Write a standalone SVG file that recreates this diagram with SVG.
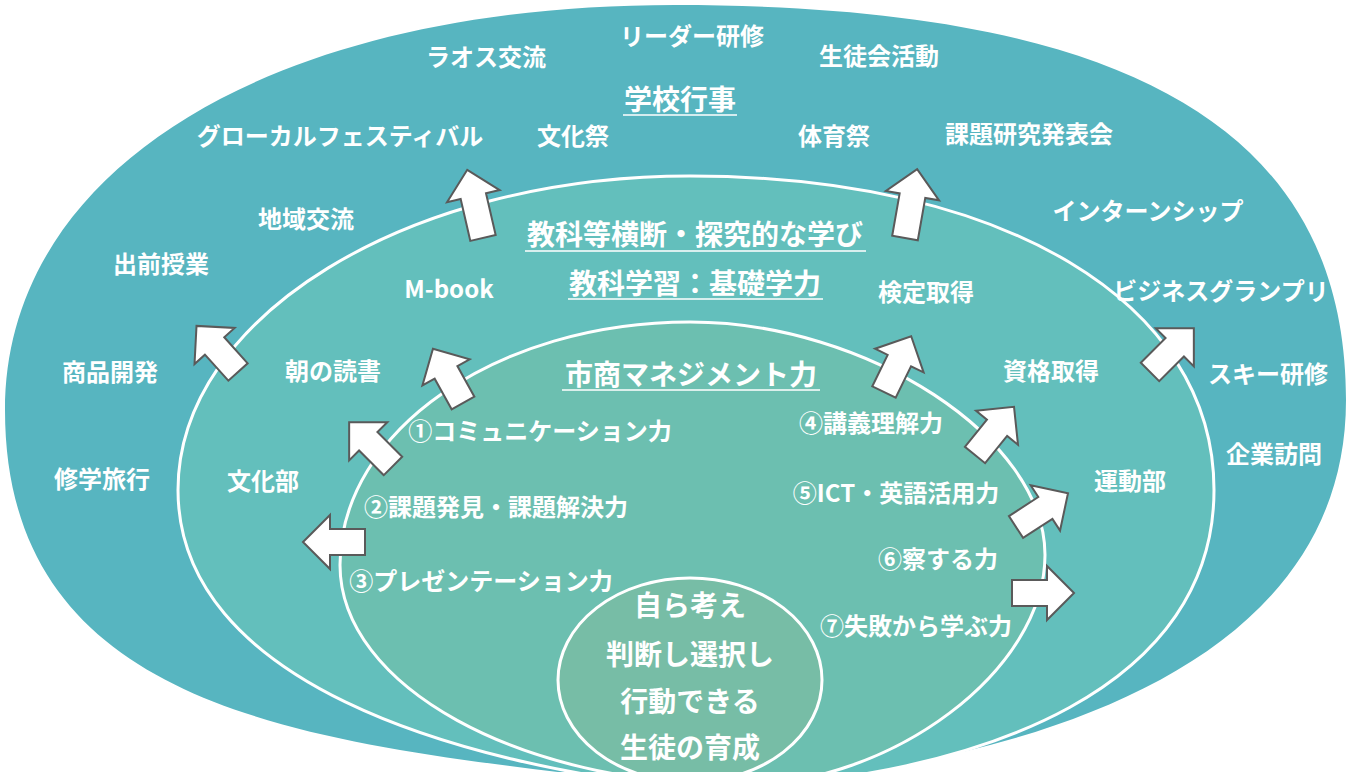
<svg xmlns="http://www.w3.org/2000/svg" xmlns:xlink="http://www.w3.org/1999/xlink" width="1348" height="772" viewBox="0 0 1348 772">
<style>
.t{font-family:"Noto Sans CJK JP","Noto Sans",sans-serif;font-weight:700;fill:#ffffff;font-size:24px;text-anchor:middle}
.h{font-size:28px}
.ul{stroke:#ffffff;stroke-width:1.5}
.ring{stroke:#ffffff;stroke-width:3}
.arrow{fill:#ffffff;stroke:#5a5a5a;stroke-width:2;stroke-linejoin:miter}
</style>
<defs>
<path id="arrS" d="M-13,0 V-35 H-27 L0,-62 L27,-35 H13 V0 Z"/>
<path id="arrL" d="M-13,0 V-43 H-27 L0,-70 L27,-43 H13 V0 Z"/>
</defs>
<rect width="1348" height="772" fill="#ffffff"/>
<g id="outer-ring">
<path d="M5,410 C5,167 273,5 675,5 C1131,5 1346,131 1346,400 C1346,680 1000,770 700,790 C380,745 5,745 5,410 Z" fill="#57b5c0"/>
</g>
<g id="ring-2">
<path class="ring" d="M178,490 C178,317 407,176 690,176 C1004,176 1214,302 1214,490 C1214,680 1000,780 700,790 C450,765 178,680 178,490 Z" fill="#63bfbc"/>
</g>
<g id="ring-3">
<path class="ring" d="M340,565 C340,431 497,322 690,322 C867,322 1045,438 1045,555 C1045,670 892,785 740,785 C519,785 340,686 340,565 Z" fill="#6cbfb0"/>
</g>
<g id="core">
<ellipse class="ring" cx="690" cy="680" rx="132" ry="102" fill="#77bda6"/>
<text class="t h" x="690" y="616">自ら考え</text>
<text class="t h" x="690" y="665">判断し選択し</text>
<text class="t h" x="690" y="712">行動できる</text>
<text class="t h" x="690" y="758">生徒の育成</text>
</g>
<g id="connectors">
<use xlink:href="#arrL" class="arrow" transform="translate(483,238) rotate(-13)"/>
<use xlink:href="#arrL" class="arrow" transform="translate(905,238) rotate(10)"/>
<use xlink:href="#arrS" class="arrow" transform="translate(238,372) rotate(-42)"/>
<use xlink:href="#arrS" class="arrow" transform="translate(463,403) rotate(-29)"/>
<use xlink:href="#arrS" class="arrow" transform="translate(393,466) rotate(-45)"/>
<use xlink:href="#arrS" class="arrow" transform="translate(365,542) rotate(-90)"/>
<use xlink:href="#arrS" class="arrow" transform="translate(884,392) rotate(26)"/>
<use xlink:href="#arrS" class="arrow" transform="translate(975,455) rotate(39)"/>
<use xlink:href="#arrS" class="arrow" transform="translate(1016,527) rotate(57)"/>
<use xlink:href="#arrS" class="arrow" transform="translate(1012,593) rotate(90)"/>
<use xlink:href="#arrS" class="arrow" transform="translate(1150,372) rotate(45)"/>
</g>
<g id="school-events">
<text class="t h" x="680" y="110">学校行事</text>
<line class="ul" x1="623" y1="115" x2="737" y2="115"/>
</g>
<g id="leader"><text class="t" x="692" y="45">リーダー研修</text></g>
<g id="laos"><text class="t" x="486" y="66">ラオス交流</text></g>
<g id="student-council"><text class="t" x="879" y="65">生徒会活動</text></g>
<g id="glocal"><text class="t" x="340" y="145">グローカルフェスティバル</text></g>
<g id="bunkasai"><text class="t" x="573" y="145">文化祭</text></g>
<g id="taiikusai"><text class="t" x="834" y="145">体育祭</text></g>
<g id="research"><text class="t" x="1029" y="143">課題研究発表会</text></g>
<g id="local"><text class="t" x="306" y="228">地域交流</text></g>
<g id="intern"><text class="t" x="1148" y="220">インターンシップ</text></g>
<g id="demae"><text class="t" x="161" y="273">出前授業</text></g>
<g id="bizgp"><text class="t" x="1221" y="300">ビジネスグランプリ</text></g>
<g id="product"><text class="t" x="110" y="381">商品開発</text></g>
<g id="ski"><text class="t" x="1268" y="383">スキー研修</text></g>
<g id="trip"><text class="t" x="102" y="488">修学旅行</text></g>
<g id="company"><text class="t" x="1274" y="463">企業訪問</text></g>
<g id="cross-curricular">
<text class="t h" x="695" y="245">教科等横断・探究的な学び</text>
<line class="ul" x1="525" y1="251" x2="866" y2="251"/>
</g>
<g id="basic">
<text class="t h" x="695" y="294">教科学習：基礎学力</text>
<line class="ul" x1="568" y1="299" x2="823" y2="299"/>
</g>
<g id="mbook"><text class="t" x="449" y="298">M-book</text></g>
<g id="kentei"><text class="t" x="926" y="301">検定取得</text></g>
<g id="reading"><text class="t" x="333" y="380">朝の読書</text></g>
<g id="shikaku"><text class="t" x="1051" y="380">資格取得</text></g>
<g id="culture-club"><text class="t" x="263" y="490">文化部</text></g>
<g id="sports-club"><text class="t" x="1130" y="490">運動部</text></g>
<g id="management">
<text class="t h" x="691" y="385">市商マネジメント力</text>
<line class="ul" x1="562" y1="390" x2="820" y2="390"/>
</g>
<g id="skill-1"><text class="t" x="540" y="440">①コミュニケーション力</text></g>
<g id="skill-2"><text class="t" x="496" y="516">②課題発見・課題解決力</text></g>
<g id="skill-3"><text class="t" x="481" y="590">③プレゼンテーション力</text></g>
<g id="skill-4"><text class="t" x="871" y="432">④講義理解力</text></g>
<g id="skill-5"><text class="t" x="896" y="502">⑤ICT・英語活用力</text></g>
<g id="skill-6"><text class="t" x="938" y="568">⑥察する力</text></g>
<g id="skill-7"><text class="t" x="916" y="635">⑦失敗から学ぶ力</text></g>
</svg>
